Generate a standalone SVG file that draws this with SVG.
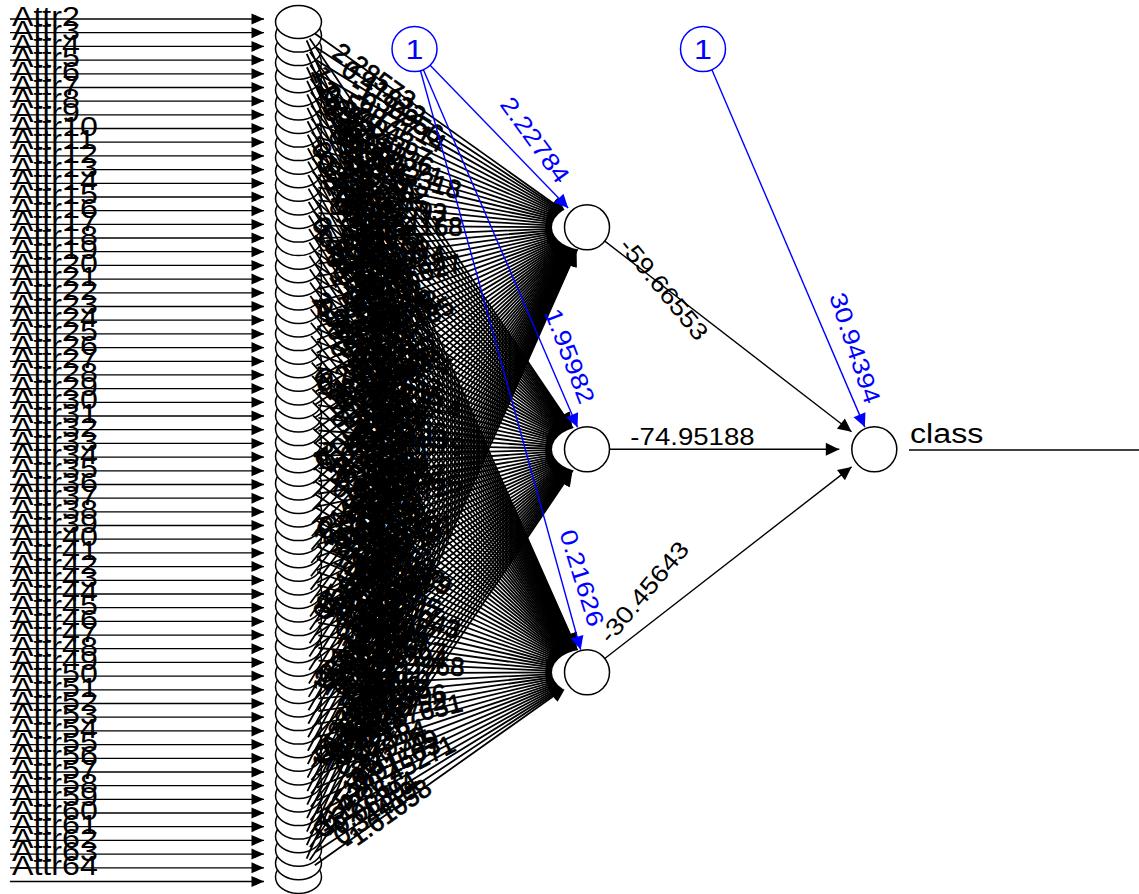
<svg xmlns="http://www.w3.org/2000/svg" width="1139" height="894" viewBox="0 0 1139 894">
<style>
.ia{stroke:#000;stroke-width:1.3;marker-end:url(#mi)}
.nd{fill:#fff;stroke:#000;stroke-width:1.5}
.bs{fill:#fff;stroke:#00f;stroke-width:1.5}
.lbl{font-family:"Liberation Sans",Arial,sans-serif;font-size:28px;fill:#000}
.e path{fill:none;stroke:#000;stroke-width:1.8;stroke-dasharray:0 20 3000;marker-end:url(#mh)}
.w text{font-family:"Liberation Sans",Arial,sans-serif;font-size:26px;fill:#000;stroke:#000;stroke-width:0.7;dominant-baseline:central}
.mk{fill:#fff;stroke:none}
.ho{stroke:#000;stroke-width:1.4;marker-end:url(#mo)}
.bl{stroke:#00f;stroke-width:1.4;marker-end:url(#mb)}
.wt{font-family:"Liberation Sans",Arial,sans-serif;font-size:24px;text-anchor:middle;dominant-baseline:central}
</style>
<defs>
<marker id="mi" markerUnits="userSpaceOnUse" viewBox="-13 -6 13 12" markerWidth="13" markerHeight="12" refX="0" refY="0" orient="auto"><path d="M-12.5,-5.5L0,0L-12.5,5.5Z" fill="#000"/></marker>
<marker id="mh" markerUnits="userSpaceOnUse" viewBox="-44 -9 46 18" markerWidth="46" markerHeight="18" refX="0" refY="0" orient="auto"><path d="M-41,-7L-26,0L-41,7Z" fill="#000"/></marker>
<marker id="mo" markerUnits="userSpaceOnUse" viewBox="-14 -7 14 14" markerWidth="14" markerHeight="14" refX="0" refY="0" orient="auto"><path d="M-13.5,-6.5L0,0L-13.5,6.5Z" fill="#000"/></marker>
<marker id="mb" markerUnits="userSpaceOnUse" viewBox="-14 -7 14 14" markerWidth="14" markerHeight="14" refX="0" refY="0" orient="auto"><path d="M-13.5,-6.5L0,0L-13.5,6.5Z" fill="#00f"/></marker>
</defs>
<rect width="1139" height="894" fill="#fff"/>
<g id="inputs">
<g id="in64"><line class="ia" x1="10" y1="881.5" x2="264" y2="881.5"/><text class="lbl" transform="scale(1.15 1)" x="10.4" y="875.0">Attr64</text><ellipse class="nd" cx="298.5" cy="876.9" rx="23" ry="16.5"/></g>
<g id="in63"><line class="ia" x1="10" y1="867.8" x2="264" y2="867.8"/><text class="lbl" transform="scale(1.15 1)" x="10.4" y="861.3">Attr63</text><ellipse class="nd" cx="298.5" cy="863.3" rx="23" ry="16.5"/></g>
<g id="in62"><line class="ia" x1="10" y1="854.1" x2="264" y2="854.1"/><text class="lbl" transform="scale(1.15 1)" x="10.4" y="847.6">Attr62</text><ellipse class="nd" cx="298.5" cy="849.8" rx="23" ry="16.5"/></g>
<g id="in61"><line class="ia" x1="10" y1="840.4" x2="264" y2="840.4"/><text class="lbl" transform="scale(1.15 1)" x="10.4" y="833.9">Attr61</text><ellipse class="nd" cx="298.5" cy="836.2" rx="23" ry="16.5"/></g>
<g id="in60"><line class="ia" x1="10" y1="826.7" x2="264" y2="826.7"/><text class="lbl" transform="scale(1.15 1)" x="10.4" y="820.2">Attr60</text><ellipse class="nd" cx="298.5" cy="822.6" rx="23" ry="16.5"/></g>
<g id="in59"><line class="ia" x1="10" y1="813.0" x2="264" y2="813.0"/><text class="lbl" transform="scale(1.15 1)" x="10.4" y="806.5">Attr59</text><ellipse class="nd" cx="298.5" cy="809.1" rx="23" ry="16.5"/></g>
<g id="in58"><line class="ia" x1="10" y1="799.3" x2="264" y2="799.3"/><text class="lbl" transform="scale(1.15 1)" x="10.4" y="792.8">Attr58</text><ellipse class="nd" cx="298.5" cy="795.5" rx="23" ry="16.5"/></g>
<g id="in57"><line class="ia" x1="10" y1="785.6" x2="264" y2="785.6"/><text class="lbl" transform="scale(1.15 1)" x="10.4" y="779.1">Attr57</text><ellipse class="nd" cx="298.5" cy="781.9" rx="23" ry="16.5"/></g>
<g id="in56"><line class="ia" x1="10" y1="772.0" x2="264" y2="772.0"/><text class="lbl" transform="scale(1.15 1)" x="10.4" y="765.5">Attr56</text><ellipse class="nd" cx="298.5" cy="768.4" rx="23" ry="16.5"/></g>
<g id="in55"><line class="ia" x1="10" y1="758.3" x2="264" y2="758.3"/><text class="lbl" transform="scale(1.15 1)" x="10.4" y="751.8">Attr55</text><ellipse class="nd" cx="298.5" cy="754.8" rx="23" ry="16.5"/></g>
<g id="in54"><line class="ia" x1="10" y1="744.6" x2="264" y2="744.6"/><text class="lbl" transform="scale(1.15 1)" x="10.4" y="738.1">Attr54</text><ellipse class="nd" cx="298.5" cy="741.2" rx="23" ry="16.5"/></g>
<g id="in53"><line class="ia" x1="10" y1="730.9" x2="264" y2="730.9"/><text class="lbl" transform="scale(1.15 1)" x="10.4" y="724.4">Attr53</text><ellipse class="nd" cx="298.5" cy="727.6" rx="23" ry="16.5"/></g>
<g id="in52"><line class="ia" x1="10" y1="717.2" x2="264" y2="717.2"/><text class="lbl" transform="scale(1.15 1)" x="10.4" y="710.7">Attr52</text><ellipse class="nd" cx="298.5" cy="714.1" rx="23" ry="16.5"/></g>
<g id="in51"><line class="ia" x1="10" y1="703.5" x2="264" y2="703.5"/><text class="lbl" transform="scale(1.15 1)" x="10.4" y="697.0">Attr51</text><ellipse class="nd" cx="298.5" cy="700.5" rx="23" ry="16.5"/></g>
<g id="in50"><line class="ia" x1="10" y1="689.8" x2="264" y2="689.8"/><text class="lbl" transform="scale(1.15 1)" x="10.4" y="683.3">Attr50</text><ellipse class="nd" cx="298.5" cy="686.9" rx="23" ry="16.5"/></g>
<g id="in49"><line class="ia" x1="10" y1="676.1" x2="264" y2="676.1"/><text class="lbl" transform="scale(1.15 1)" x="10.4" y="669.6">Attr49</text><ellipse class="nd" cx="298.5" cy="673.4" rx="23" ry="16.5"/></g>
<g id="in48"><line class="ia" x1="10" y1="662.4" x2="264" y2="662.4"/><text class="lbl" transform="scale(1.15 1)" x="10.4" y="655.9">Attr48</text><ellipse class="nd" cx="298.5" cy="659.8" rx="23" ry="16.5"/></g>
<g id="in47"><line class="ia" x1="10" y1="648.7" x2="264" y2="648.7"/><text class="lbl" transform="scale(1.15 1)" x="10.4" y="642.2">Attr47</text><ellipse class="nd" cx="298.5" cy="646.2" rx="23" ry="16.5"/></g>
<g id="in46"><line class="ia" x1="10" y1="635.1" x2="264" y2="635.1"/><text class="lbl" transform="scale(1.15 1)" x="10.4" y="628.6">Attr46</text><ellipse class="nd" cx="298.5" cy="632.7" rx="23" ry="16.5"/></g>
<g id="in45"><line class="ia" x1="10" y1="621.4" x2="264" y2="621.4"/><text class="lbl" transform="scale(1.15 1)" x="10.4" y="614.9">Attr45</text><ellipse class="nd" cx="298.5" cy="619.1" rx="23" ry="16.5"/></g>
<g id="in44"><line class="ia" x1="10" y1="607.7" x2="264" y2="607.7"/><text class="lbl" transform="scale(1.15 1)" x="10.4" y="601.2">Attr44</text><ellipse class="nd" cx="298.5" cy="605.5" rx="23" ry="16.5"/></g>
<g id="in43"><line class="ia" x1="10" y1="594.0" x2="264" y2="594.0"/><text class="lbl" transform="scale(1.15 1)" x="10.4" y="587.5">Attr43</text><ellipse class="nd" cx="298.5" cy="591.9" rx="23" ry="16.5"/></g>
<g id="in42"><line class="ia" x1="10" y1="580.3" x2="264" y2="580.3"/><text class="lbl" transform="scale(1.15 1)" x="10.4" y="573.8">Attr42</text><ellipse class="nd" cx="298.5" cy="578.4" rx="23" ry="16.5"/></g>
<g id="in41"><line class="ia" x1="10" y1="566.6" x2="264" y2="566.6"/><text class="lbl" transform="scale(1.15 1)" x="10.4" y="560.1">Attr41</text><ellipse class="nd" cx="298.5" cy="564.8" rx="23" ry="16.5"/></g>
<g id="in40"><line class="ia" x1="10" y1="552.9" x2="264" y2="552.9"/><text class="lbl" transform="scale(1.15 1)" x="10.4" y="546.4">Attr40</text><ellipse class="nd" cx="298.5" cy="551.2" rx="23" ry="16.5"/></g>
<g id="in39"><line class="ia" x1="10" y1="539.2" x2="264" y2="539.2"/><text class="lbl" transform="scale(1.15 1)" x="10.4" y="532.7">Attr39</text><ellipse class="nd" cx="298.5" cy="537.7" rx="23" ry="16.5"/></g>
<g id="in38"><line class="ia" x1="10" y1="525.5" x2="264" y2="525.5"/><text class="lbl" transform="scale(1.15 1)" x="10.4" y="519.0">Attr38</text><ellipse class="nd" cx="298.5" cy="524.1" rx="23" ry="16.5"/></g>
<g id="in37"><line class="ia" x1="10" y1="511.8" x2="264" y2="511.8"/><text class="lbl" transform="scale(1.15 1)" x="10.4" y="505.3">Attr37</text><ellipse class="nd" cx="298.5" cy="510.5" rx="23" ry="16.5"/></g>
<g id="in36"><line class="ia" x1="10" y1="498.2" x2="264" y2="498.2"/><text class="lbl" transform="scale(1.15 1)" x="10.4" y="491.7">Attr36</text><ellipse class="nd" cx="298.5" cy="497.0" rx="23" ry="16.5"/></g>
<g id="in35"><line class="ia" x1="10" y1="484.5" x2="264" y2="484.5"/><text class="lbl" transform="scale(1.15 1)" x="10.4" y="478.0">Attr35</text><ellipse class="nd" cx="298.5" cy="483.4" rx="23" ry="16.5"/></g>
<g id="in34"><line class="ia" x1="10" y1="470.8" x2="264" y2="470.8"/><text class="lbl" transform="scale(1.15 1)" x="10.4" y="464.3">Attr34</text><ellipse class="nd" cx="298.5" cy="469.8" rx="23" ry="16.5"/></g>
<g id="in33"><line class="ia" x1="10" y1="457.1" x2="264" y2="457.1"/><text class="lbl" transform="scale(1.15 1)" x="10.4" y="450.6">Attr33</text><ellipse class="nd" cx="298.5" cy="456.2" rx="23" ry="16.5"/></g>
<g id="in32"><line class="ia" x1="10" y1="443.4" x2="264" y2="443.4"/><text class="lbl" transform="scale(1.15 1)" x="10.4" y="436.9">Attr32</text><ellipse class="nd" cx="298.5" cy="442.7" rx="23" ry="16.5"/></g>
<g id="in31"><line class="ia" x1="10" y1="429.7" x2="264" y2="429.7"/><text class="lbl" transform="scale(1.15 1)" x="10.4" y="423.2">Attr31</text><ellipse class="nd" cx="298.5" cy="429.1" rx="23" ry="16.5"/></g>
<g id="in30"><line class="ia" x1="10" y1="416.0" x2="264" y2="416.0"/><text class="lbl" transform="scale(1.15 1)" x="10.4" y="409.5">Attr30</text><ellipse class="nd" cx="298.5" cy="415.5" rx="23" ry="16.5"/></g>
<g id="in29"><line class="ia" x1="10" y1="402.3" x2="264" y2="402.3"/><text class="lbl" transform="scale(1.15 1)" x="10.4" y="395.8">Attr29</text><ellipse class="nd" cx="298.5" cy="402.0" rx="23" ry="16.5"/></g>
<g id="in28"><line class="ia" x1="10" y1="388.6" x2="264" y2="388.6"/><text class="lbl" transform="scale(1.15 1)" x="10.4" y="382.1">Attr28</text><ellipse class="nd" cx="298.5" cy="388.4" rx="23" ry="16.5"/></g>
<g id="in27"><line class="ia" x1="10" y1="374.9" x2="264" y2="374.9"/><text class="lbl" transform="scale(1.15 1)" x="10.4" y="368.4">Attr27</text><ellipse class="nd" cx="298.5" cy="374.8" rx="23" ry="16.5"/></g>
<g id="in26"><line class="ia" x1="10" y1="361.3" x2="264" y2="361.3"/><text class="lbl" transform="scale(1.15 1)" x="10.4" y="354.8">Attr26</text><ellipse class="nd" cx="298.5" cy="361.3" rx="23" ry="16.5"/></g>
<g id="in25"><line class="ia" x1="10" y1="347.6" x2="264" y2="347.6"/><text class="lbl" transform="scale(1.15 1)" x="10.4" y="341.1">Attr25</text><ellipse class="nd" cx="298.5" cy="347.7" rx="23" ry="16.5"/></g>
<g id="in24"><line class="ia" x1="10" y1="333.9" x2="264" y2="333.9"/><text class="lbl" transform="scale(1.15 1)" x="10.4" y="327.4">Attr24</text><ellipse class="nd" cx="298.5" cy="334.1" rx="23" ry="16.5"/></g>
<g id="in23"><line class="ia" x1="10" y1="320.2" x2="264" y2="320.2"/><text class="lbl" transform="scale(1.15 1)" x="10.4" y="313.7">Attr23</text><ellipse class="nd" cx="298.5" cy="320.5" rx="23" ry="16.5"/></g>
<g id="in22"><line class="ia" x1="10" y1="306.5" x2="264" y2="306.5"/><text class="lbl" transform="scale(1.15 1)" x="10.4" y="300.0">Attr22</text><ellipse class="nd" cx="298.5" cy="307.0" rx="23" ry="16.5"/></g>
<g id="in21"><line class="ia" x1="10" y1="292.8" x2="264" y2="292.8"/><text class="lbl" transform="scale(1.15 1)" x="10.4" y="286.3">Attr21</text><ellipse class="nd" cx="298.5" cy="293.4" rx="23" ry="16.5"/></g>
<g id="in20"><line class="ia" x1="10" y1="279.1" x2="264" y2="279.1"/><text class="lbl" transform="scale(1.15 1)" x="10.4" y="272.6">Attr20</text><ellipse class="nd" cx="298.5" cy="279.8" rx="23" ry="16.5"/></g>
<g id="in19"><line class="ia" x1="10" y1="265.4" x2="264" y2="265.4"/><text class="lbl" transform="scale(1.15 1)" x="10.4" y="258.9">Attr19</text><ellipse class="nd" cx="298.5" cy="266.3" rx="23" ry="16.5"/></g>
<g id="in18"><line class="ia" x1="10" y1="251.7" x2="264" y2="251.7"/><text class="lbl" transform="scale(1.15 1)" x="10.4" y="245.2">Attr18</text><ellipse class="nd" cx="298.5" cy="252.7" rx="23" ry="16.5"/></g>
<g id="in17"><line class="ia" x1="10" y1="238.0" x2="264" y2="238.0"/><text class="lbl" transform="scale(1.15 1)" x="10.4" y="231.5">Attr17</text><ellipse class="nd" cx="298.5" cy="239.1" rx="23" ry="16.5"/></g>
<g id="in16"><line class="ia" x1="10" y1="224.4" x2="264" y2="224.4"/><text class="lbl" transform="scale(1.15 1)" x="10.4" y="217.9">Attr16</text><ellipse class="nd" cx="298.5" cy="225.6" rx="23" ry="16.5"/></g>
<g id="in15"><line class="ia" x1="10" y1="210.7" x2="264" y2="210.7"/><text class="lbl" transform="scale(1.15 1)" x="10.4" y="204.2">Attr15</text><ellipse class="nd" cx="298.5" cy="212.0" rx="23" ry="16.5"/></g>
<g id="in14"><line class="ia" x1="10" y1="197.0" x2="264" y2="197.0"/><text class="lbl" transform="scale(1.15 1)" x="10.4" y="190.5">Attr14</text><ellipse class="nd" cx="298.5" cy="198.4" rx="23" ry="16.5"/></g>
<g id="in13"><line class="ia" x1="10" y1="183.3" x2="264" y2="183.3"/><text class="lbl" transform="scale(1.15 1)" x="10.4" y="176.8">Attr13</text><ellipse class="nd" cx="298.5" cy="184.8" rx="23" ry="16.5"/></g>
<g id="in12"><line class="ia" x1="10" y1="169.6" x2="264" y2="169.6"/><text class="lbl" transform="scale(1.15 1)" x="10.4" y="163.1">Attr12</text><ellipse class="nd" cx="298.5" cy="171.3" rx="23" ry="16.5"/></g>
<g id="in11"><line class="ia" x1="10" y1="155.9" x2="264" y2="155.9"/><text class="lbl" transform="scale(1.15 1)" x="10.4" y="149.4">Attr11</text><ellipse class="nd" cx="298.5" cy="157.7" rx="23" ry="16.5"/></g>
<g id="in10"><line class="ia" x1="10" y1="142.2" x2="264" y2="142.2"/><text class="lbl" transform="scale(1.15 1)" x="10.4" y="135.7">Attr10</text><ellipse class="nd" cx="298.5" cy="144.1" rx="23" ry="16.5"/></g>
<g id="in9"><line class="ia" x1="10" y1="128.5" x2="264" y2="128.5"/><text class="lbl" transform="scale(1.15 1)" x="10.4" y="122.0">Attr9</text><ellipse class="nd" cx="298.5" cy="130.6" rx="23" ry="16.5"/></g>
<g id="in8"><line class="ia" x1="10" y1="114.8" x2="264" y2="114.8"/><text class="lbl" transform="scale(1.15 1)" x="10.4" y="108.3">Attr8</text><ellipse class="nd" cx="298.5" cy="117.0" rx="23" ry="16.5"/></g>
<g id="in7"><line class="ia" x1="10" y1="101.1" x2="264" y2="101.1"/><text class="lbl" transform="scale(1.15 1)" x="10.4" y="94.6">Attr7</text><ellipse class="nd" cx="298.5" cy="103.4" rx="23" ry="16.5"/></g>
<g id="in6"><line class="ia" x1="10" y1="87.5" x2="264" y2="87.5"/><text class="lbl" transform="scale(1.15 1)" x="10.4" y="81.0">Attr6</text><ellipse class="nd" cx="298.5" cy="89.9" rx="23" ry="16.5"/></g>
<g id="in5"><line class="ia" x1="10" y1="73.8" x2="264" y2="73.8"/><text class="lbl" transform="scale(1.15 1)" x="10.4" y="67.3">Attr5</text><ellipse class="nd" cx="298.5" cy="76.3" rx="23" ry="16.5"/></g>
<g id="in4"><line class="ia" x1="10" y1="60.1" x2="264" y2="60.1"/><text class="lbl" transform="scale(1.15 1)" x="10.4" y="53.6">Attr4</text><ellipse class="nd" cx="298.5" cy="62.7" rx="23" ry="16.5"/></g>
<g id="in3"><line class="ia" x1="10" y1="46.4" x2="264" y2="46.4"/><text class="lbl" transform="scale(1.15 1)" x="10.4" y="39.9">Attr3</text><ellipse class="nd" cx="298.5" cy="49.1" rx="23" ry="16.5"/></g>
<g id="in2"><line class="ia" x1="10" y1="32.7" x2="264" y2="32.7"/><text class="lbl" transform="scale(1.15 1)" x="10.4" y="26.2">Attr2</text><ellipse class="nd" cx="298.5" cy="35.6" rx="23" ry="16.5"/></g>
<g id="in1"><line class="ia" x1="10" y1="19.0" x2="264" y2="19.0"/><ellipse class="nd" cx="298.5" cy="22.0" rx="23" ry="16.5"/></g>
</g>
<g id="connectors">
<g class="e" id="input-hidden">
<path id="e0a" d="M298.5 22.0L587 227.3"/><path id="e0b" d="M298.5 22.0L587 449.3"/><path id="e0c" d="M298.5 22.0L587 672.3"/>
<path id="e1a" d="M298.5 35.6L587 227.3"/><path id="e1b" d="M298.5 35.6L587 449.3"/><path id="e1c" d="M298.5 35.6L587 672.3"/>
<path id="e2a" d="M298.5 49.1L587 227.3"/><path id="e2b" d="M298.5 49.1L587 449.3"/><path id="e2c" d="M298.5 49.1L587 672.3"/>
<path id="e3a" d="M298.5 62.7L587 227.3"/><path id="e3b" d="M298.5 62.7L587 449.3"/><path id="e3c" d="M298.5 62.7L587 672.3"/>
<path id="e4a" d="M298.5 76.3L587 227.3"/><path id="e4b" d="M298.5 76.3L587 449.3"/><path id="e4c" d="M298.5 76.3L587 672.3"/>
<path id="e5a" d="M298.5 89.9L587 227.3"/><path id="e5b" d="M298.5 89.9L587 449.3"/><path id="e5c" d="M298.5 89.9L587 672.3"/>
<path id="e6a" d="M298.5 103.4L587 227.3"/><path id="e6b" d="M298.5 103.4L587 449.3"/><path id="e6c" d="M298.5 103.4L587 672.3"/>
<path id="e7a" d="M298.5 117.0L587 227.3"/><path id="e7b" d="M298.5 117.0L587 449.3"/><path id="e7c" d="M298.5 117.0L587 672.3"/>
<path id="e8a" d="M298.5 130.6L587 227.3"/><path id="e8b" d="M298.5 130.6L587 449.3"/><path id="e8c" d="M298.5 130.6L587 672.3"/>
<path id="e9a" d="M298.5 144.1L587 227.3"/><path id="e9b" d="M298.5 144.1L587 449.3"/><path id="e9c" d="M298.5 144.1L587 672.3"/>
<path id="e10a" d="M298.5 157.7L587 227.3"/><path id="e10b" d="M298.5 157.7L587 449.3"/><path id="e10c" d="M298.5 157.7L587 672.3"/>
<path id="e11a" d="M298.5 171.3L587 227.3"/><path id="e11b" d="M298.5 171.3L587 449.3"/><path id="e11c" d="M298.5 171.3L587 672.3"/>
<path id="e12a" d="M298.5 184.8L587 227.3"/><path id="e12b" d="M298.5 184.8L587 449.3"/><path id="e12c" d="M298.5 184.8L587 672.3"/>
<path id="e13a" d="M298.5 198.4L587 227.3"/><path id="e13b" d="M298.5 198.4L587 449.3"/><path id="e13c" d="M298.5 198.4L587 672.3"/>
<path id="e14a" d="M298.5 212.0L587 227.3"/><path id="e14b" d="M298.5 212.0L587 449.3"/><path id="e14c" d="M298.5 212.0L587 672.3"/>
<path id="e15a" d="M298.5 225.6L587 227.3"/><path id="e15b" d="M298.5 225.6L587 449.3"/><path id="e15c" d="M298.5 225.6L587 672.3"/>
<path id="e16a" d="M298.5 239.1L587 227.3"/><path id="e16b" d="M298.5 239.1L587 449.3"/><path id="e16c" d="M298.5 239.1L587 672.3"/>
<path id="e17a" d="M298.5 252.7L587 227.3"/><path id="e17b" d="M298.5 252.7L587 449.3"/><path id="e17c" d="M298.5 252.7L587 672.3"/>
<path id="e18a" d="M298.5 266.3L587 227.3"/><path id="e18b" d="M298.5 266.3L587 449.3"/><path id="e18c" d="M298.5 266.3L587 672.3"/>
<path id="e19a" d="M298.5 279.8L587 227.3"/><path id="e19b" d="M298.5 279.8L587 449.3"/><path id="e19c" d="M298.5 279.8L587 672.3"/>
<path id="e20a" d="M298.5 293.4L587 227.3"/><path id="e20b" d="M298.5 293.4L587 449.3"/><path id="e20c" d="M298.5 293.4L587 672.3"/>
<path id="e21a" d="M298.5 307.0L587 227.3"/><path id="e21b" d="M298.5 307.0L587 449.3"/><path id="e21c" d="M298.5 307.0L587 672.3"/>
<path id="e22a" d="M298.5 320.5L587 227.3"/><path id="e22b" d="M298.5 320.5L587 449.3"/><path id="e22c" d="M298.5 320.5L587 672.3"/>
<path id="e23a" d="M298.5 334.1L587 227.3"/><path id="e23b" d="M298.5 334.1L587 449.3"/><path id="e23c" d="M298.5 334.1L587 672.3"/>
<path id="e24a" d="M298.5 347.7L587 227.3"/><path id="e24b" d="M298.5 347.7L587 449.3"/><path id="e24c" d="M298.5 347.7L587 672.3"/>
<path id="e25a" d="M298.5 361.3L587 227.3"/><path id="e25b" d="M298.5 361.3L587 449.3"/><path id="e25c" d="M298.5 361.3L587 672.3"/>
<path id="e26a" d="M298.5 374.8L587 227.3"/><path id="e26b" d="M298.5 374.8L587 449.3"/><path id="e26c" d="M298.5 374.8L587 672.3"/>
<path id="e27a" d="M298.5 388.4L587 227.3"/><path id="e27b" d="M298.5 388.4L587 449.3"/><path id="e27c" d="M298.5 388.4L587 672.3"/>
<path id="e28a" d="M298.5 402.0L587 227.3"/><path id="e28b" d="M298.5 402.0L587 449.3"/><path id="e28c" d="M298.5 402.0L587 672.3"/>
<path id="e29a" d="M298.5 415.5L587 227.3"/><path id="e29b" d="M298.5 415.5L587 449.3"/><path id="e29c" d="M298.5 415.5L587 672.3"/>
<path id="e30a" d="M298.5 429.1L587 227.3"/><path id="e30b" d="M298.5 429.1L587 449.3"/><path id="e30c" d="M298.5 429.1L587 672.3"/>
<path id="e31a" d="M298.5 442.7L587 227.3"/><path id="e31b" d="M298.5 442.7L587 449.3"/><path id="e31c" d="M298.5 442.7L587 672.3"/>
<path id="e32a" d="M298.5 456.2L587 227.3"/><path id="e32b" d="M298.5 456.2L587 449.3"/><path id="e32c" d="M298.5 456.2L587 672.3"/>
<path id="e33a" d="M298.5 469.8L587 227.3"/><path id="e33b" d="M298.5 469.8L587 449.3"/><path id="e33c" d="M298.5 469.8L587 672.3"/>
<path id="e34a" d="M298.5 483.4L587 227.3"/><path id="e34b" d="M298.5 483.4L587 449.3"/><path id="e34c" d="M298.5 483.4L587 672.3"/>
<path id="e35a" d="M298.5 497.0L587 227.3"/><path id="e35b" d="M298.5 497.0L587 449.3"/><path id="e35c" d="M298.5 497.0L587 672.3"/>
<path id="e36a" d="M298.5 510.5L587 227.3"/><path id="e36b" d="M298.5 510.5L587 449.3"/><path id="e36c" d="M298.5 510.5L587 672.3"/>
<path id="e37a" d="M298.5 524.1L587 227.3"/><path id="e37b" d="M298.5 524.1L587 449.3"/><path id="e37c" d="M298.5 524.1L587 672.3"/>
<path id="e38a" d="M298.5 537.7L587 227.3"/><path id="e38b" d="M298.5 537.7L587 449.3"/><path id="e38c" d="M298.5 537.7L587 672.3"/>
<path id="e39a" d="M298.5 551.2L587 227.3"/><path id="e39b" d="M298.5 551.2L587 449.3"/><path id="e39c" d="M298.5 551.2L587 672.3"/>
<path id="e40a" d="M298.5 564.8L587 227.3"/><path id="e40b" d="M298.5 564.8L587 449.3"/><path id="e40c" d="M298.5 564.8L587 672.3"/>
<path id="e41a" d="M298.5 578.4L587 227.3"/><path id="e41b" d="M298.5 578.4L587 449.3"/><path id="e41c" d="M298.5 578.4L587 672.3"/>
<path id="e42a" d="M298.5 591.9L587 227.3"/><path id="e42b" d="M298.5 591.9L587 449.3"/><path id="e42c" d="M298.5 591.9L587 672.3"/>
<path id="e43a" d="M298.5 605.5L587 227.3"/><path id="e43b" d="M298.5 605.5L587 449.3"/><path id="e43c" d="M298.5 605.5L587 672.3"/>
<path id="e44a" d="M298.5 619.1L587 227.3"/><path id="e44b" d="M298.5 619.1L587 449.3"/><path id="e44c" d="M298.5 619.1L587 672.3"/>
<path id="e45a" d="M298.5 632.7L587 227.3"/><path id="e45b" d="M298.5 632.7L587 449.3"/><path id="e45c" d="M298.5 632.7L587 672.3"/>
<path id="e46a" d="M298.5 646.2L587 227.3"/><path id="e46b" d="M298.5 646.2L587 449.3"/><path id="e46c" d="M298.5 646.2L587 672.3"/>
<path id="e47a" d="M298.5 659.8L587 227.3"/><path id="e47b" d="M298.5 659.8L587 449.3"/><path id="e47c" d="M298.5 659.8L587 672.3"/>
<path id="e48a" d="M298.5 673.4L587 227.3"/><path id="e48b" d="M298.5 673.4L587 449.3"/><path id="e48c" d="M298.5 673.4L587 672.3"/>
<path id="e49a" d="M298.5 686.9L587 227.3"/><path id="e49b" d="M298.5 686.9L587 449.3"/><path id="e49c" d="M298.5 686.9L587 672.3"/>
<path id="e50a" d="M298.5 700.5L587 227.3"/><path id="e50b" d="M298.5 700.5L587 449.3"/><path id="e50c" d="M298.5 700.5L587 672.3"/>
<path id="e51a" d="M298.5 714.1L587 227.3"/><path id="e51b" d="M298.5 714.1L587 449.3"/><path id="e51c" d="M298.5 714.1L587 672.3"/>
<path id="e52a" d="M298.5 727.6L587 227.3"/><path id="e52b" d="M298.5 727.6L587 449.3"/><path id="e52c" d="M298.5 727.6L587 672.3"/>
<path id="e53a" d="M298.5 741.2L587 227.3"/><path id="e53b" d="M298.5 741.2L587 449.3"/><path id="e53c" d="M298.5 741.2L587 672.3"/>
<path id="e54a" d="M298.5 754.8L587 227.3"/><path id="e54b" d="M298.5 754.8L587 449.3"/><path id="e54c" d="M298.5 754.8L587 672.3"/>
<path id="e55a" d="M298.5 768.4L587 227.3"/><path id="e55b" d="M298.5 768.4L587 449.3"/><path id="e55c" d="M298.5 768.4L587 672.3"/>
<path id="e56a" d="M298.5 781.9L587 227.3"/><path id="e56b" d="M298.5 781.9L587 449.3"/><path id="e56c" d="M298.5 781.9L587 672.3"/>
<path id="e57a" d="M298.5 795.5L587 227.3"/><path id="e57b" d="M298.5 795.5L587 449.3"/><path id="e57c" d="M298.5 795.5L587 672.3"/>
<path id="e58a" d="M298.5 809.1L587 227.3"/><path id="e58b" d="M298.5 809.1L587 449.3"/><path id="e58c" d="M298.5 809.1L587 672.3"/>
<path id="e59a" d="M298.5 822.6L587 227.3"/><path id="e59b" d="M298.5 822.6L587 449.3"/><path id="e59c" d="M298.5 822.6L587 672.3"/>
<path id="e60a" d="M298.5 836.2L587 227.3"/><path id="e60b" d="M298.5 836.2L587 449.3"/><path id="e60c" d="M298.5 836.2L587 672.3"/>
<path id="e61a" d="M298.5 849.8L587 227.3"/><path id="e61b" d="M298.5 849.8L587 449.3"/><path id="e61c" d="M298.5 849.8L587 672.3"/>
<path id="e62a" d="M298.5 863.3L587 227.3"/><path id="e62b" d="M298.5 863.3L587 449.3"/><path id="e62c" d="M298.5 863.3L587 672.3"/>
<path id="e63a" d="M298.5 876.9L587 227.3"/><path id="e63b" d="M298.5 876.9L587 449.3"/><path id="e63c" d="M298.5 876.9L587 672.3"/>
</g>
<g class="w" id="input-weights">
<text><textPath href="#e0a" startOffset="13%">2.28573</textPath></text><text><textPath href="#e0b" startOffset="19%">-0.73214</textPath></text><text><textPath href="#e0c" startOffset="7%">1.07329</textPath></text>
<text><textPath href="#e1a" startOffset="16%">0.41822</textPath></text><text><textPath href="#e1b" startOffset="22%">1.18457</textPath></text><text><textPath href="#e1c" startOffset="10%">-0.38164</textPath></text>
<text><textPath href="#e2a" startOffset="19%">-1.30956</textPath></text><text><textPath href="#e2b" startOffset="7%">-2.02639</textPath></text><text><textPath href="#e2c" startOffset="13%">0.62815</textPath></text>
<text><textPath href="#e3a" startOffset="22%">0.77714</textPath></text><text><textPath href="#e3b" startOffset="10%">0.40918</textPath></text><text><textPath href="#e3c" startOffset="16%">-1.84927</textPath></text>
<text><textPath href="#e4a" startOffset="7%">-0.52871</textPath></text><text><textPath href="#e4b" startOffset="13%">-0.15372</textPath></text><text><textPath href="#e4c" startOffset="19%">2.20563</textPath></text>
<text><textPath href="#e5a" startOffset="10%">1.96043</textPath></text><text><textPath href="#e5b" startOffset="16%">1.66281</textPath></text><text><textPath href="#e5c" startOffset="22%">-0.20471</textPath></text>
<text><textPath href="#e6a" startOffset="13%">-2.14397</textPath></text><text><textPath href="#e6b" startOffset="19%">-0.89543</textPath></text><text><textPath href="#e6c" startOffset="7%">0.94638</textPath></text>
<text><textPath href="#e7a" startOffset="16%">0.08836</textPath></text><text><textPath href="#e7b" startOffset="22%">0.24706</textPath></text><text><textPath href="#e7c" startOffset="10%">-1.57249</textPath></text>
<text><textPath href="#e8a" startOffset="19%">1.50271</textPath></text><text><textPath href="#e8b" startOffset="7%">-1.39821</textPath></text><text><textPath href="#e8c" startOffset="13%">0.16873</textPath></text>
<text><textPath href="#e9a" startOffset="22%">-0.93318</textPath></text><text><textPath href="#e9b" startOffset="10%">2.35192</textPath></text><text><textPath href="#e9c" startOffset="16%">-0.68952</textPath></text>
<text><textPath href="#e10a" startOffset="7%">0.31649</textPath></text><text><textPath href="#e10b" startOffset="13%">-0.56038</textPath></text><text><textPath href="#e10c" startOffset="19%">1.39716</textPath></text>
<text><textPath href="#e11a" startOffset="10%">-1.77402</textPath></text><text><textPath href="#e11b" startOffset="16%">0.81374</textPath></text><text><textPath href="#e11c" startOffset="22%">-2.28345</textPath></text>
<text><textPath href="#e12a" startOffset="13%">2.61085</textPath></text><text><textPath href="#e12b" startOffset="19%">-1.11629</textPath></text><text><textPath href="#e12c" startOffset="7%">0.45187</textPath></text>
<text><textPath href="#e13a" startOffset="16%">-0.24593</textPath></text><text><textPath href="#e13b" startOffset="22%">0.02985</textPath></text><text><textPath href="#e13c" startOffset="10%">-0.97604</textPath></text>
<text><textPath href="#e14a" startOffset="19%">0.95217</textPath></text><text><textPath href="#e14b" startOffset="7%">1.29463</textPath></text><text><textPath href="#e14c" startOffset="13%">1.84291</textPath></text>
<text><textPath href="#e15a" startOffset="22%">-1.41168</textPath></text><text><textPath href="#e15b" startOffset="10%">-2.47158</textPath></text><text><textPath href="#e15c" startOffset="16%">-0.09217</textPath></text>
<text><textPath href="#e16a" startOffset="7%">0.63904</textPath></text><text><textPath href="#e16b" startOffset="13%">0.58236</textPath></text><text><textPath href="#e16c" startOffset="19%">0.73568</textPath></text>
<text><textPath href="#e17a" startOffset="10%">-0.17755</textPath></text><text><textPath href="#e17b" startOffset="16%">-0.31947</textPath></text><text><textPath href="#e17c" startOffset="22%">-1.31425</textPath></text>
<text><textPath href="#e18a" startOffset="13%">1.22391</textPath></text><text><textPath href="#e18b" startOffset="19%">1.91802</textPath></text><text><textPath href="#e18c" startOffset="7%">2.57903</textPath></text>
<text><textPath href="#e19a" startOffset="16%">-2.58014</textPath></text><text><textPath href="#e19b" startOffset="22%">-0.66314</textPath></text><text><textPath href="#e19c" startOffset="10%">-0.52136</textPath></text>
<text><textPath href="#e20a" startOffset="19%">0.49762</textPath></text><text><textPath href="#e20b" startOffset="7%">0.14529</textPath></text><text><textPath href="#e20c" startOffset="13%">0.27849</textPath></text>
<text><textPath href="#e21a" startOffset="22%">-0.86627</textPath></text><text><textPath href="#e21b" startOffset="10%">-1.58476</textPath></text><text><textPath href="#e21c" startOffset="16%">-1.14782</textPath></text>
<text><textPath href="#e22a" startOffset="7%">1.74038</textPath></text><text><textPath href="#e22b" startOffset="13%">2.72038</textPath></text><text><textPath href="#e22c" startOffset="19%">1.60327</textPath></text>
<text><textPath href="#e23a" startOffset="10%">-0.35291</textPath></text><text><textPath href="#e23b" startOffset="16%">-0.40153</textPath></text><text><textPath href="#e23c" startOffset="22%">-0.29653</textPath></text>
<text><textPath href="#e24a" startOffset="13%">0.11579</textPath></text><text><textPath href="#e24b" startOffset="19%">0.97685</textPath></text><text><textPath href="#e24c" startOffset="7%">0.83194</textPath></text>
<text><textPath href="#e25a" startOffset="16%">-1.63342</textPath></text><text><textPath href="#e25b" startOffset="22%">-1.22814</textPath></text><text><textPath href="#e25c" startOffset="10%">-1.99518</textPath></text>
<text><textPath href="#e26a" startOffset="19%">2.03916</textPath></text><text><textPath href="#e26b" startOffset="7%">0.36952</textPath></text><text><textPath href="#e26c" startOffset="13%">0.12506</textPath></text>
<text><textPath href="#e27a" startOffset="22%">-0.71485</textPath></text><text><textPath href="#e27b" startOffset="10%">-0.10548</textPath></text><text><textPath href="#e27c" startOffset="16%">-0.61273</textPath></text>
<text><textPath href="#e28a" startOffset="7%">0.28397</textPath></text><text><textPath href="#e28b" startOffset="13%">1.53217</textPath></text><text><textPath href="#e28c" startOffset="19%">1.24859</textPath></text>
<text><textPath href="#e29a" startOffset="10%">-1.08863</textPath></text><text><textPath href="#e29b" startOffset="16%">-2.19736</textPath></text><text><textPath href="#e29c" startOffset="22%">-0.43902</textPath></text>
<text><textPath href="#e30a" startOffset="13%">1.37655</textPath></text><text><textPath href="#e30b" startOffset="19%">0.70483</textPath></text><text><textPath href="#e30c" startOffset="7%">2.06731</textPath></text>
<text><textPath href="#e31a" startOffset="16%">-0.44176</textPath></text><text><textPath href="#e31b" startOffset="22%">-0.48679</textPath></text><text><textPath href="#e31c" startOffset="10%">-1.26394</textPath></text>
<text><textPath href="#e32a" startOffset="19%">0.86522</textPath></text><text><textPath href="#e32b" startOffset="7%">1.03851</textPath></text><text><textPath href="#e32c" startOffset="13%">0.39265</textPath></text>
<text><textPath href="#e33a" startOffset="22%">-2.31904</textPath></text><text><textPath href="#e33b" startOffset="10%">-1.70294</textPath></text><text><textPath href="#e33c" startOffset="16%">-0.84117</textPath></text>
<text><textPath href="#e34a" startOffset="7%">0.05413</textPath></text><text><textPath href="#e34b" startOffset="13%">0.26318</textPath></text><text><textPath href="#e34c" startOffset="19%">1.51482</textPath></text>
<text><textPath href="#e35a" startOffset="10%">-0.99281</textPath></text><text><textPath href="#e35b" startOffset="16%">-0.82457</textPath></text><text><textPath href="#e35c" startOffset="22%">-0.16839</textPath></text>
<text><textPath href="#e36a" startOffset="13%">1.58867</textPath></text><text><textPath href="#e36b" startOffset="19%">2.11986</textPath></text><text><textPath href="#e36c" startOffset="7%">0.68724</textPath></text>
<text><textPath href="#e37a" startOffset="16%">-0.13926</textPath></text><text><textPath href="#e37b" startOffset="22%">-0.34725</textPath></text><text><textPath href="#e37c" startOffset="10%">-2.39571</textPath></text>
<text><textPath href="#e38a" startOffset="19%">0.72153</textPath></text><text><textPath href="#e38b" startOffset="7%">0.51643</textPath></text><text><textPath href="#e38c" startOffset="13%">1.01438</textPath></text>
<text><textPath href="#e39a" startOffset="22%">-1.52039</textPath></text><text><textPath href="#e39b" startOffset="10%">-1.34189</textPath></text><text><textPath href="#e39c" startOffset="16%">-0.36285</textPath></text>
<text><textPath href="#e40a" startOffset="7%">2.44688</textPath></text><text><textPath href="#e40b" startOffset="13%">0.88072</textPath></text><text><textPath href="#e40c" startOffset="19%">0.22917</textPath></text>
<text><textPath href="#e41a" startOffset="10%">-0.60715</textPath></text><text><textPath href="#e41b" startOffset="16%">-0.19516</textPath></text><text><textPath href="#e41c" startOffset="22%">-1.69043</textPath></text>
<text><textPath href="#e42a" startOffset="13%">0.37291</textPath></text><text><textPath href="#e42b" startOffset="19%">1.62745</textPath></text><text><textPath href="#e42c" startOffset="7%">1.95276</textPath></text>
<text><textPath href="#e43a" startOffset="16%">-1.19344</textPath></text><text><textPath href="#e43b" startOffset="22%">-2.63187</textPath></text><text><textPath href="#e43c" startOffset="10%">-0.55428</textPath></text>
<text><textPath href="#e44a" startOffset="19%">1.09826</textPath></text><text><textPath href="#e44b" startOffset="7%">0.42591</textPath></text><text><textPath href="#e44c" startOffset="13%">0.47613</textPath></text>
<text><textPath href="#e45a" startOffset="22%">-0.28158</textPath></text><text><textPath href="#e45b" startOffset="10%">-0.75862</textPath></text><text><textPath href="#e45c" startOffset="16%">-1.02367</textPath></text>
<text><textPath href="#e46a" startOffset="7%">0.54079</textPath></text><text><textPath href="#e46b" startOffset="13%">1.15304</textPath></text><text><textPath href="#e46c" startOffset="19%">1.32594</textPath></text>
<text><textPath href="#e47a" startOffset="10%">-1.86613</textPath></text><text><textPath href="#e47b" startOffset="16%">-0.03471</textPath></text><text><textPath href="#e47c" startOffset="22%">-0.23968</textPath></text>
<text><textPath href="#e48a" startOffset="13%">3.02147</textPath></text><text><textPath href="#e48b" startOffset="19%">0.61958</textPath></text><text><textPath href="#e48c" startOffset="7%">0.80341</textPath></text>
<text><textPath href="#e49a" startOffset="16%">-0.46392</textPath></text><text><textPath href="#e49b" startOffset="22%">-1.93825</textPath></text><text><textPath href="#e49c" startOffset="10%">-1.46859</textPath></text>
<text><textPath href="#e50a" startOffset="19%">0.19874</textPath></text><text><textPath href="#e50b" startOffset="7%">2.29417</textPath></text><text><textPath href="#e50c" startOffset="13%">2.48125</textPath></text>
<text><textPath href="#e51a" startOffset="22%">-1.25508</textPath></text><text><textPath href="#e51b" startOffset="10%">-0.57384</textPath></text><text><textPath href="#e51c" startOffset="16%">-0.70396</textPath></text>
<text><textPath href="#e52a" startOffset="7%">1.81736</textPath></text><text><textPath href="#e52b" startOffset="13%">0.18965</textPath></text><text><textPath href="#e52c" startOffset="19%">0.09752</textPath></text>
<text><textPath href="#e53a" startOffset="10%">-0.07663</textPath></text><text><textPath href="#e53b" startOffset="16%">-1.06742</textPath></text><text><textPath href="#e53c" startOffset="22%">-1.17631</textPath></text>
<text><textPath href="#e54a" startOffset="13%">0.90441</textPath></text><text><textPath href="#e54b" startOffset="19%">1.45628</textPath></text><text><textPath href="#e54c" startOffset="7%">1.68418</textPath></text>
<text><textPath href="#e55a" startOffset="16%">-2.05873</textPath></text><text><textPath href="#e55b" startOffset="22%">-0.27193</textPath></text><text><textPath href="#e55c" startOffset="10%">-0.32584</textPath></text>
<text><textPath href="#e56a" startOffset="19%">0.33526</textPath></text><text><textPath href="#e56b" startOffset="7%">0.79536</textPath></text><text><textPath href="#e56c" startOffset="13%">0.57936</textPath></text>
<text><textPath href="#e57a" startOffset="22%">-0.79018</textPath></text><text><textPath href="#e57b" startOffset="10%">-1.81469</textPath></text><text><textPath href="#e57c" startOffset="16%">-2.11749</textPath></text>
<text><textPath href="#e58a" startOffset="7%">1.43395</textPath></text><text><textPath href="#e58b" startOffset="13%">0.30817</textPath></text><text><textPath href="#e58c" startOffset="19%">0.91503</textPath></text>
<text><textPath href="#e59a" startOffset="10%">-0.21637</textPath></text><text><textPath href="#e59b" startOffset="16%">-0.92274</textPath></text><text><textPath href="#e59c" startOffset="22%">-0.45271</textPath></text>
<text><textPath href="#e60a" startOffset="13%">0.67249</textPath></text><text><textPath href="#e60b" startOffset="19%">1.70359</textPath></text><text><textPath href="#e60c" startOffset="7%">1.12867</textPath></text>
<text><textPath href="#e61a" startOffset="16%">-1.47782</textPath></text><text><textPath href="#e61b" startOffset="22%">-0.12846</textPath></text><text><textPath href="#e61c" startOffset="10%">-0.06394</textPath></text>
<text><textPath href="#e62a" startOffset="19%">2.17564</textPath></text><text><textPath href="#e62b" startOffset="7%">0.55192</textPath></text><text><textPath href="#e62c" startOffset="13%">0.34419</textPath></text>
<text><textPath href="#e63a" startOffset="22%">-0.58931</textPath></text><text><textPath href="#e63b" startOffset="10%">-1.42607</textPath></text><text><textPath href="#e63c" startOffset="16%">-1.61058</textPath></text>
</g>
</g>
<g id="hidden1"><path class="mk" d="M587 204.3A35 23 0 0 0 587 250.3Z"/><circle class="nd" cx="587" cy="227.3" r="22.5"/></g>
<g id="hidden2"><path class="mk" d="M587 426.3A35 23 0 0 0 587 472.3Z"/><circle class="nd" cx="587" cy="449.3" r="22.5"/></g>
<g id="hidden3"><path class="mk" d="M587 649.3A35 23 0 0 0 587 695.3Z"/><circle class="nd" cx="587" cy="672.3" r="22.5"/></g>
<g id="connectors-2">
<line class="ho" x1="604.8" y1="241.1" x2="851.6" y2="431.8"/>
<line class="ho" x1="609.5" y1="449.3" x2="839.3" y2="449.3"/>
<line class="ho" x1="604.8" y1="658.5" x2="851.6" y2="466.9"/>
<line class="bl" x1="430.1" y1="65.2" x2="568.2" y2="207.9"/>
<line class="bl" x1="423.4" y1="69.7" x2="577.5" y2="427.2"/>
<line class="bl" x1="420.5" y1="70.7" x2="580.7" y2="649.7"/>
<line class="bl" x1="711.9" y1="69.7" x2="864.8" y2="427.1"/>
<g class="wt">
<text fill="#00f" transform="translate(535 140) rotate(54) scale(1.15 1)">2.22784</text>
<text fill="#00f" transform="translate(570 356) rotate(69) scale(1.15 1)">1.95982</text>
<text fill="#00f" transform="translate(582 578) rotate(72.8) scale(1.15 1)">0.21626</text>
<text fill="#00f" transform="translate(855 348) rotate(71.6) scale(1.15 1)">30.94394</text>
<text fill="#000" transform="translate(664 289) rotate(50.5) scale(1.15 1)">-59.66553</text>
<text fill="#000" transform="translate(692.5 437) scale(1.15 1)">-74.95188</text>
<text fill="#000" transform="translate(644 592) rotate(-49.8) scale(1.15 1)">-30.45643</text>
</g>
</g>
<g id="output"><circle class="nd" cx="874.3" cy="449.3" r="22.5"/><line x1="909" y1="450" x2="1139" y2="450" stroke="#000" stroke-width="1.6"/><text class="lbl" transform="translate(910 443) scale(1.15 1)">class</text></g>
<g id="bias1"><circle class="bs" cx="414.5" cy="49" r="22.5"/><text class="lbl" style="fill:#00f" text-anchor="middle" transform="translate(414.5 59) scale(1.15 1)">1</text></g>
<g id="bias2"><circle class="bs" cx="703" cy="49" r="22.5"/><text class="lbl" style="fill:#00f" text-anchor="middle" transform="translate(703 59) scale(1.15 1)">1</text></g>
</svg>
